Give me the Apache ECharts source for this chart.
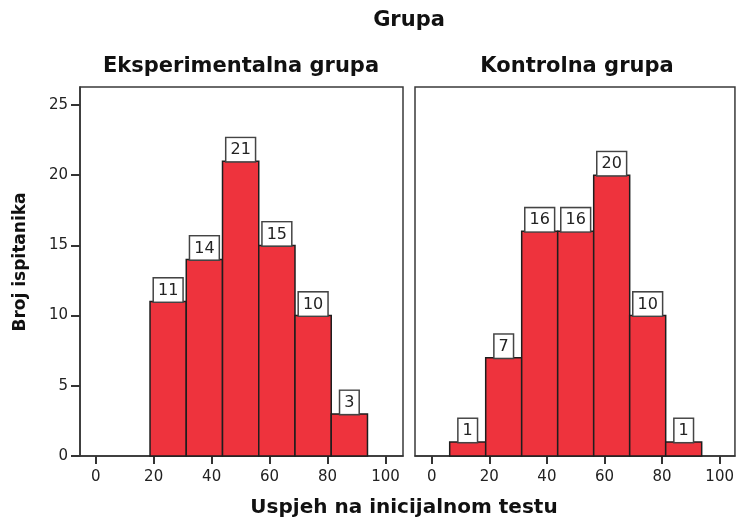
<!DOCTYPE html>
<html>
<head>
<meta charset="utf-8">
<script src="https://cdn.jsdelivr.net/npm/echarts@6/dist/echarts.min.js"></script>
<style>
html,body{margin:0;padding:0;background:#fff;}
#chart{width:737px;height:523px;}
</style>
</head>
<body>
<div id="chart"></div>
<script>
// ---- data ----
const binCenters = [12.5, 25, 37.5, 50, 62.5, 75, 87.5];
const binWidth = 12.5;
const expCounts = [0, 11, 14, 21, 15, 10, 3];
const ctrlCounts = [1, 7, 16, 16, 20, 10, 1];
const xTicks = [0, 20, 40, 60, 80, 100];
const yTicks = [0, 5, 10, 15, 20, 25];
const panelTitles = ['Eksperimentalna grupa', 'Kontrolna grupa'];
const mainTitle = 'Grupa';
const xTitle = 'Uspjeh na inicijalnom testu';
const yTitle = 'Broj ispitanika';

function toData(counts) {
  const out = [];
  counts.forEach((c, i) => {
    if (c > 0) out.push([binCenters[i] - binWidth / 2, binCenters[i] + binWidth / 2, c]);
  });
  return out;
}

const BAR = '#EE333D';
const FONT = 'DejaVu Sans';

function renderItem(params, api) {
  const p0 = api.coord([api.value(0), 0]);
  const p1 = api.coord([api.value(1), api.value(2)]);
  const cx = (p0[0] + p1[0]) / 2;
  return {
    type: 'group',
    children: [
      {
        type: 'rect',
        shape: { x: p0[0], y: p1[1], width: p1[0] - p0[0], height: p0[1] - p1[1] },
        style: { fill: BAR, stroke: '#1e1e1e', lineWidth: 1.5 }
      },
      {
        type: 'text',
        x: cx, y: p1[1],
        style: {
          text: String(api.value(2)),
          font: '16px "' + FONT + '"',
          fill: '#222',
          align: 'center',
          verticalAlign: 'bottom',
          backgroundColor: '#fff',
          borderColor: '#444',
          borderWidth: 1.5,
          padding: [4, 4, 3, 4]
        },
        z2: 10
      }
    ]
  };
}

const grids = [
  { left: 80, top: 87, width: 323, height: 369 },
  { left: 415, top: 87, width: 321, height: 369 }
];
const xRanges = [[-5.4, 106], [-5.8, 105.3]];

const option = {
  animation: false,
  backgroundColor: '#fff',
  grid: grids.map(g => Object.assign({ show: true, borderColor: '#3a3a3a', borderWidth: 1.5, backgroundColor: 'transparent' }, g)),
  xAxis: [0, 1].map(i => ({
    type: 'value',
    gridIndex: i,
    min: xRanges[i][0],
    max: xRanges[i][1],
    axisLine: { show: true, onZero: false, lineStyle: { color: '#333', width: 1.5 } },
    axisTick: { show: true, customValues: xTicks, length: 8, lineStyle: { color: '#333', width: 2 } },
    axisLabel: { customValues: xTicks, margin: 14, fontFamily: FONT, fontSize: 15, color: '#222' },
    splitLine: { show: false }
  })),
  yAxis: [0, 1].map(i => ({
    type: 'value',
    gridIndex: i,
    min: 0,
    max: 26.28,
    axisLine: { show: i === 0, onZero: false, lineStyle: { color: '#333', width: 1.5 } },
    axisTick: { show: i === 0, customValues: yTicks, length: 9, lineStyle: { color: '#333', width: 2 } },
    axisLabel: { show: i === 0, customValues: yTicks, margin: 12, fontFamily: FONT, fontSize: 15, color: '#222' },
    splitLine: { show: false }
  })),
  series: [
    { type: 'custom', xAxisIndex: 0, yAxisIndex: 0, renderItem, data: toData(expCounts), encode: { x: [0, 1], y: 2 } },
    { type: 'custom', xAxisIndex: 1, yAxisIndex: 1, renderItem, data: toData(ctrlCounts), encode: { x: [0, 1], y: 2 } }
  ],
  graphic: [
    { type: 'text', x: 409, y: 21, style: { text: mainTitle, font: 'bold 21px "' + FONT + '"', fill: '#111', align: 'center', verticalAlign: 'middle' } },
    { type: 'text', x: 241, y: 67, style: { text: panelTitles[0], font: 'bold 21px "' + FONT + '"', fill: '#111', align: 'center', verticalAlign: 'middle' } },
    { type: 'text', x: 577, y: 67, style: { text: panelTitles[1], font: 'bold 21px "' + FONT + '"', fill: '#111', align: 'center', verticalAlign: 'middle' } },
    { type: 'text', x: 404, y: 508, style: { text: xTitle, font: 'bold 20px "' + FONT + '"', fill: '#111', align: 'center', verticalAlign: 'middle' } },
    { type: 'text', x: 21, y: 262, rotation: Math.PI / 2, style: { text: yTitle, font: 'bold 17px "' + FONT + '"', fill: '#111', align: 'center', verticalAlign: 'middle' } }
  ]
};

const chart = echarts.init(document.getElementById('chart'), null, { renderer: 'canvas' });
chart.setOption(option);
</script>
</body>
</html>
